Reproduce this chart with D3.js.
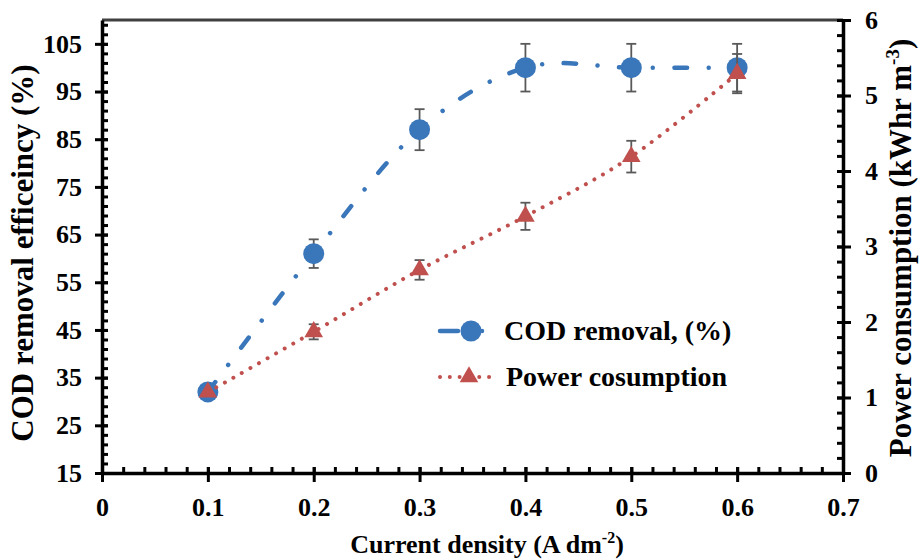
<!DOCTYPE html>
<html><head><meta charset="utf-8">
<script src="https://cdn.jsdelivr.net/npm/d3@7"></script>
<style>
body{margin:0;background:#fff}
svg{display:block}
text{font-family:"Liberation Serif","Times New Roman",serif;font-weight:bold;fill:#000}
</style>
</head><body><svg id="c" width="920" height="559"></svg>
<script>
// ---- data ----
const currentDensity = [0.1, 0.2, 0.3, 0.4, 0.5, 0.6];
const codRemoval = [32, 61, 87, 100, 100, 100];
const codError = [0, 3, 4.3, 5, 5, 5];
const powerConsumption = [1.07, 1.87, 2.69, 3.40, 4.19, 5.29];
const powerError = [0, 0.1, 0.13, 0.18, 0.21, 0.26];
const xTickValues = [0, 0.1, 0.2, 0.3, 0.4, 0.5, 0.6, 0.7];
const leftTickValues = [15, 25, 35, 45, 55, 65, 75, 85, 95, 105];
const rightTickValues = [0, 1, 2, 3, 4, 5, 6];
const seriesNames = ["COD removal, (%)", "Power cosumption"];

const FONT = '"Liberation Serif","Times New Roman",serif';
const svg = d3.select("#c");
const L = 102, R = 843, T = 20, B = 473;
const x = d3.scaleLinear().domain([0, 0.7]).range([L, R]);
const yL = d3.scaleLinear().domain([15, 110]).range([B, T]);
const yR = d3.scaleLinear().domain([0, 6]).range([B, T]);

const blue = "#3A76BA", red = "#C0504D", errC = "#595959";
const FS = 26;

// top frame
svg.append("line").attr("x1", L).attr("x2", R).attr("y1", T).attr("y2", T)
  .attr("stroke", "#404040").attr("stroke-width", 3);

function styleAxis(g) {
  g.attr("font-family", null).attr("font-size", null);
  g.select(".domain").attr("stroke", "#000").attr("stroke-width", 3.5);
  g.selectAll(".tick line").attr("stroke", "#000").attr("stroke-width", 3);
  g.selectAll("text").style("font-size", FS + "px").style("font-family", FONT)
    .style("font-weight", "bold").attr("fill", "#000");
}
function range(a, b, s) { const r = []; for (let v = a; v <= b + 1e-9; v += s) r.push(+v.toFixed(4)); return r; }

// minor ticks (inside)
function minor(g) { g.select(".domain").remove(); g.selectAll(".tick line").attr("stroke", "#000").attr("stroke-width", 3); }
svg.append("g").attr("transform", `translate(${L},0)`)
  .call(d3.axisRight(yL).tickValues(range(15, 110, 2)).tickSize(6).tickFormat("").tickSizeOuter(0)).call(minor);
svg.append("g").attr("transform", `translate(${R},0)`)
  .call(d3.axisLeft(yR).tickValues(range(0, 6, 0.2)).tickSize(6).tickFormat("").tickSizeOuter(0)).call(minor);
svg.append("g").attr("transform", `translate(0,${B})`)
  .call(d3.axisTop(x).tickValues(range(0, 0.7, 0.02)).tickSize(6).tickFormat("").tickSizeOuter(0)).call(minor);

// major axes (crossing ticks)
const gl = svg.append("g").attr("transform", `translate(${L},0)`)
  .call(d3.axisLeft(yL).tickValues(leftTickValues).tickSize(7).tickPadding(13).tickFormat(d3.format("d")).tickSizeOuter(0))
  .call(styleAxis);
gl.selectAll(".tick line").attr("x1", 6);
const gr = svg.append("g").attr("transform", `translate(${R},0)`)
  .call(d3.axisRight(yR).tickValues(rightTickValues).tickSize(8).tickPadding(14).tickFormat(d3.format("d")).tickSizeOuter(0))
  .call(styleAxis);
gr.selectAll(".tick line").attr("x1", -6);
const gb = svg.append("g").attr("transform", `translate(0,${B})`)
  .call(d3.axisBottom(x).tickValues(xTickValues).tickSize(9).tickPadding(16).tickFormat(d => d === 0 ? "0" : d3.format(".1f")(d)).tickSizeOuter(0))
  .call(styleAxis);
gb.selectAll(".tick line").attr("y1", -6);

// titles
svg.append("text").attr("x", 487).attr("y", 553).attr("text-anchor", "middle").style("font-size", FS + "px").style("font-family", FONT)
  .call(t => { t.append("tspan").text("Current density (A dm");
    t.append("tspan").attr("dy", -10).style("font-size", "16px").text("-2");
    t.append("tspan").attr("dy", 10).text(")"); });
svg.append("text").attr("transform", "translate(22,253) rotate(-90)").attr("text-anchor", "middle").style("font-family", FONT)
  .attr("dy", "0.35em").style("font-size", "31px").text("COD removal efficeincy (%)");
svg.append("text").attr("transform", "translate(900,248) rotate(-90)").attr("text-anchor", "middle").style("font-family", FONT)
  .attr("dy", "0.35em").style("font-size", "31px")
  .call(t => { t.append("tspan").text("Power consumption (kWhr m");
    t.append("tspan").attr("dy", -12).style("font-size", "19px").text("-3");
    t.append("tspan").attr("dy", 12).text(")"); });

const codData = currentDensity.map((d, i) => ({x: d, y: codRemoval[i], e: codError[i]}));
const powData = currentDensity.map((d, i) => ({x: d, y: powerConsumption[i], e: powerError[i]}));
const curve = d3.curveCardinal.tension(0);

function errorBars(data, ys) {
  const g = svg.append("g").attr("stroke", errC).attr("stroke-width", 1.8).attr("fill", "none");
  data.filter(d => d.e > 0).forEach(d => {
    const cx = x(d.x), y1 = ys(d.y + d.e), y2 = ys(d.y - d.e);
    g.append("line").attr("x1", cx).attr("x2", cx).attr("y1", y1).attr("y2", y2);
    g.append("line").attr("x1", cx - 5).attr("x2", cx + 5).attr("y1", y1).attr("y2", y1);
    g.append("line").attr("x1", cx - 5).attr("x2", cx + 5).attr("y1", y2).attr("y2", y2);
  });
}

const dashDot = "12.5,21.5,0.01,21.5";
const dotted = "0.01,9.8";

// COD series
errorBars(codData, yL);
svg.append("path").datum(codData)
  .attr("d", d3.line().x(d => x(d.x)).y(d => yL(d.y)).curve(curve))
  .attr("fill", "none").attr("stroke", blue).attr("stroke-width", 4.5)
  .attr("stroke-linecap", "round").attr("stroke-dasharray", dashDot);
svg.append("g").selectAll("circle").data(codData).join("circle")
  .attr("cx", d => x(d.x)).attr("cy", d => yL(d.y)).attr("r", 10.5).attr("fill", blue);

// Power series
errorBars(powData, yR);
svg.append("path").datum(powData)
  .attr("d", d3.line().x(d => x(d.x)).y(d => yR(d.y)).curve(curve))
  .attr("fill", "none").attr("stroke", red).attr("stroke-width", 4)
  .attr("stroke-linecap", "round").attr("stroke-dasharray", dotted);
const tri = d3.symbol().type(d3.symbolTriangle).size(150);
svg.append("g").selectAll("path").data(powData).join("path")
  .attr("transform", d => `translate(${x(d.x)},${yR(d.y)})`).attr("d", tri).attr("fill", red);

// legend
const lg = svg.append("g");
lg.append("line").attr("x1", 440).attr("x2", 500).attr("y1", 331).attr("y2", 331)
  .attr("stroke", blue).attr("stroke-width", 4.5).attr("stroke-linecap", "round").attr("stroke-dasharray", "18,24,0.01,40");
lg.append("circle").attr("cx", 471).attr("cy", 331).attr("r", 10.5).attr("fill", blue);
lg.append("text").attr("x", 504).attr("y", 340).style("font-size", "28px").style("font-family", FONT).text(seriesNames[0]);
lg.append("line").attr("x1", 440).attr("x2", 498).attr("y1", 377).attr("y2", 377)
  .attr("stroke", red).attr("stroke-width", 4).attr("stroke-linecap", "round").attr("stroke-dasharray", dotted);
lg.append("path").attr("transform", "translate(469,377)").attr("d", tri).attr("fill", red);
lg.append("text").attr("x", 506).attr("y", 386).style("font-size", "28px").style("font-family", FONT).text(seriesNames[1]);
</script>
</body></html>
